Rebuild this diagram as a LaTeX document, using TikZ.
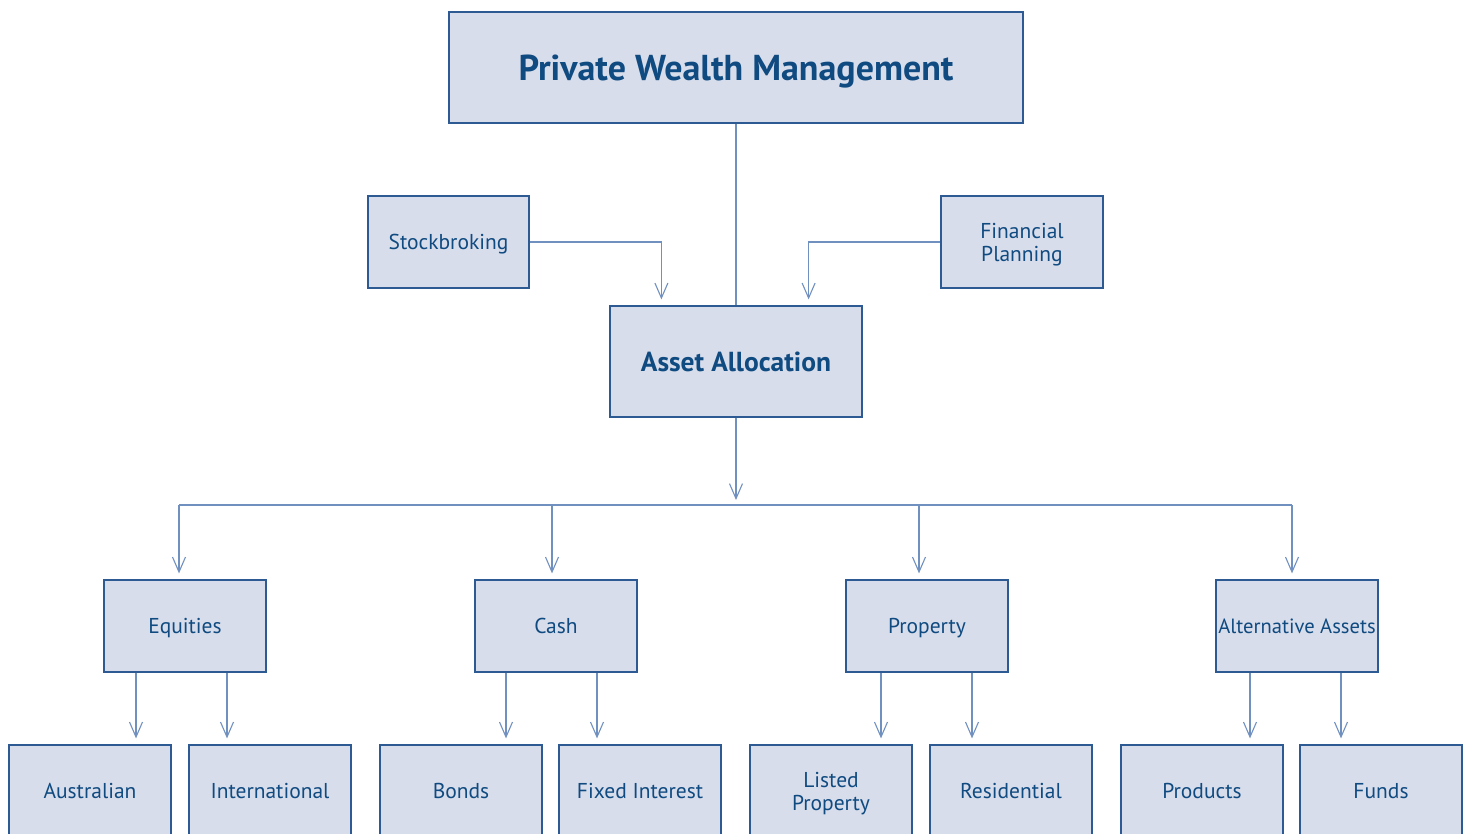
\documentclass[tikz,border=0pt]{standalone}
\usepackage{fontspec}
\setmainfont{PT Sans}
\usetikzlibrary{arrows.meta}
\definecolor{boxfill}{HTML}{D8DDEB}
\definecolor{boxline}{HTML}{2E5A94}
\definecolor{conn}{HTML}{7090C0}
\definecolor{txt}{HTML}{0F4A80}
\tikzset{
  box/.style={draw=boxline, fill=boxfill, line width=1.2pt, text=txt, align=center, inner sep=0pt, text depth=0pt, font=\fontsize{21.5}{23}\selectfont},
  arr/.style={draw=conn, line width=1.1pt, -{Straight Barb[length=15pt,width=13pt,line width=1.1pt]}, shorten >=6pt},
  ln/.style={draw=conn, line width=1.1pt}
}
\begin{document}
\begin{tikzpicture}[x=1pt,y=-1pt]
\useasboundingbox (0,0) rectangle (1468,834);
% boxes
\node[box, minimum width=574, minimum height=111, font=\fontsize{36}{40}\selectfont\bfseries] (pwm) at (736,67.5) {Private Wealth Management};
\node[box, minimum width=161, minimum height=92] (sb) at (448.5,242) {Stockbroking};
\node[box, minimum width=162, minimum height=92] (fp) at (1022,242) {Financial\\Planning};
\node[box, minimum width=252, minimum height=111, font=\fontsize{27.5}{30}\selectfont\bfseries] (aa) at (736,361.5) {Asset Allocation};
\node[box, minimum width=162, minimum height=92] (eq) at (185,626) {Equities};
\node[box, minimum width=162, minimum height=92] (ca) at (556,626) {Cash};
\node[box, minimum width=162, minimum height=92] (pr) at (927,626) {Property};
\node[box, minimum width=162, minimum height=92, font=\fontsize{20.6}{23}\selectfont] (al) at (1297,626) {Alternative Assets};
% bottom row (extends beyond the lower edge)
\node[box, minimum width=162, minimum height=92] (au) at (90,791) {Australian};
\node[box, minimum width=162, minimum height=92] (in) at (270,791) {International};
\node[box, minimum width=162, minimum height=92] (bo) at (461,791) {Bonds};
\node[box, minimum width=162, minimum height=92] (fi) at (640,791) {Fixed Interest};
\node[box, minimum width=162, minimum height=92] (lp) at (831,791) {Listed\\Property};
\node[box, minimum width=162, minimum height=92] (re) at (1011,791) {Residential};
\node[box, minimum width=162, minimum height=92] (po) at (1202,791) {Products};
\node[box, minimum width=162, minimum height=92] (fu) at (1381,791) {Funds};
% connectors top
\draw[ln] (pwm.south) -- (aa.north);
\draw[arr] (sb.east) -| ([xshift=52]aa.north west);
\draw[arr] (fp.west) -| ([xshift=-54]aa.north east);
% bus
\coordinate (bus) at (736,505);
\coordinate (b1) at (179,505);
\coordinate (b2) at (552,505);
\coordinate (b3) at (919,505);
\coordinate (b4) at (1292,505);
\draw[arr, shorten >=5pt] (aa.south) -- (bus);
\draw[ln] (b1) -- (b4);
\draw[arr] (b1) -- (b1 |- eq.north);
\draw[arr] (b2) -- (b2 |- ca.north);
\draw[arr] (b3) -- (b3 |- pr.north);
\draw[arr] (b4) -- (b4 |- al.north);
% drops to bottom row
\foreach \p/\a/\b/\xa/\xb in {eq/au/in/136/227, ca/bo/fi/506/597, pr/lp/re/881/972, al/po/fu/1250/1341}{
  \draw[arr] (\xa,0 |- \p.south) -- (\xa,0 |- \a.north);
  \draw[arr] (\xb,0 |- \p.south) -- (\xb,0 |- \b.north);
}
\end{tikzpicture}
\end{document}
